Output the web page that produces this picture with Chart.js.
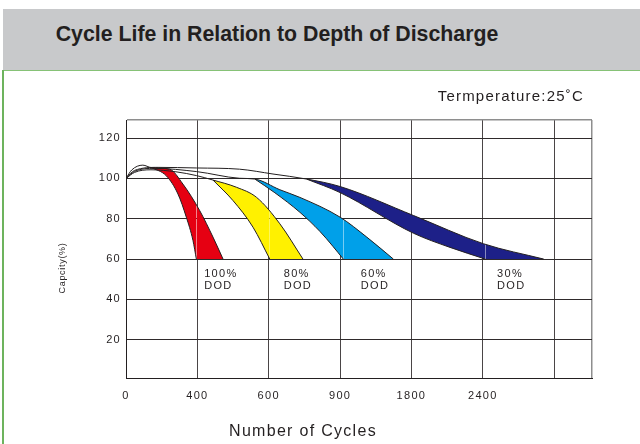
<!DOCTYPE html>
<html>
<head>
<meta charset="utf-8">
<script src="https://cdn.jsdelivr.net/npm/chart.js@4.4.0/dist/chart.umd.min.js"></script>
<style>
  html, body { margin: 0; padding: 0; background: #fff; }
  #page { position: relative; width: 640px; height: 444px; overflow: hidden; }
  #header { position: absolute; left: 3px; top: 9px; width: 637px; height: 61px; background: #c8c9cb; border-bottom: 1px solid #86c276; }
  #header h1 { position: absolute; left: 0; top: 13px; width: 548px; margin: 0; text-align: center;
    font: bold 21.3px Arial, "Liberation Sans", sans-serif; line-height: 24px; color: #231f20; }
  #frame { position: absolute; left: 2px; top: 70px; width: 2px; height: 374px; background: #6db35d; }
  #wrap { position: absolute; left: 0; top: 0; width: 640px; height: 444px; }
</style>
</head>
<body>
<div id="page">
  <div id="wrap"><canvas id="myChart"></canvas></div>
  <div id="header"><h1>Cycle Life in Relation to Depth of Discharge</h1></div>
  <div id="frame"></div>
</div>
<script>
// x positions are grid columns (0 = "0", 1 = "400", ... ), y is capacity %
const cycleLabels = ['0', '400', '600', '900', '1800', '2400'];
const capacityTicks = [20, 40, 60, 80, 100, 120];
const dodNames = ['100%', '80%', '60%', '30%'];

// outer (right) edge of each band, starting at the common point 0 / 100%
const dod100Outer = [[0, 100], [0.08, 104.2], [0.236, 106.6], [0.354, 105.4], [0.611, 104.6], [0.798, 97.2], [1.032, 84.1], [1.219, 70.9], [1.36, 60]];
const dod80Outer = [[0, 100], [0.12, 103], [0.35, 104.3], [0.7, 103.3], [0.99, 101.4], [1.219, 99.2], [1.55, 95.6], [1.83, 90.6], [2.156, 77.5], [2.48, 60]];
const dod60Outer = [[0, 100], [0.12, 103.5], [0.4, 105], [0.99, 103.4], [1.59, 100.1], [1.805, 99.7], [2.156, 94.4], [2.437, 90.6], [3.0, 80.8], [3.374, 70.9], [3.747, 60]];
const dod30Outer = [[0, 100], [0.12, 104], [0.45, 105.5], [0.99, 105.2], [1.59, 104.6], [2.06, 102.2], [2.53, 99.7], [3.0, 96], [4.03, 81.6], [5.01, 67.6], [5.854, 60]];

// inner (left) edge of each band, from where it leaves the outer curve down to 60%
const dod100Inner = [[0.354, 105.4], [0.565, 101.3], [0.728, 92.3], [0.845, 80.8], [0.938, 69.3], [0.986, 60]];
const dod80Inner = [[1.219, 99.2], [1.5, 89], [1.78, 75.8], [2.015, 60]];
const dod60Inner = [[1.805, 99.7], [2.086, 92.9], [2.437, 83.2], [2.718, 73.7], [2.9, 66.3], [3.045, 60]];
const dod30Inner = [[2.53, 99.7], [3.0, 93], [4.03, 72.8], [4.54, 65.8], [5.035, 60]];

const bandColors = ['#e60012', '#fff100', '#00a0e9', '#1d2088'];
const inkColor = '#231f20';
const fontFamily = 'Arial, "Liberation Sans", sans-serif';

const yMin = 1;
const yMax = 129;
const xMax = 6.53;

function toPoints(arr) {
    return arr.map(function(p) { return {x: p[0], y: p[1]}; });
}

var outers = [dod100Outer, dod80Outer, dod60Outer, dod30Outer];
var inners = [dod100Inner, dod80Inner, dod60Inner, dod30Inner];

var datasets = [];
for (var i = 0; i < outers.length; i++) {
    var outerIndex = datasets.length;
    var outer = outers[i];
    var inner = inners[i];
    datasets.push({
        label: dodNames[i] + ' DOD',
        data: toPoints(outer),
        borderColor: inkColor,
        borderWidth: 1,
        fill: false
    });
    datasets.push({
        label: dodNames[i] + ' inner',
        data: toPoints(inner),
        borderColor: inkColor,
        borderWidth: 1,
        backgroundColor: bandColors[i],
        fill: {target: outerIndex}
    });
    // bottom of the band, along the 60% line
    datasets.push({
        label: dodNames[i] + ' base',
        data: toPoints([inner[inner.length - 1], outer[outer.length - 1]]),
        borderWidth: 0,
        backgroundColor: bandColors[i],
        fill: {target: outerIndex}
    });
}

const textPlugin = {
    id: 'textPlugin',
    beforeDraw: function(chart) {
        chart.ctx.letterSpacing = '1.3px';
    },
    afterDraw: function(chart) {
        var ctx = chart.ctx;
        var xs = chart.scales.x;
        ctx.save();
        ctx.fillStyle = inkColor;

        ctx.letterSpacing = '1.2px';
        ctx.font = '15px ' + fontFamily;
        ctx.textAlign = 'right';
        ctx.textBaseline = 'middle';
        ctx.fillText('Termperature:25\u02DAC', 584, 97);

        // DOD labels under each band
        var anchors = [1.095, 2.21, 3.29, 5.2];
        ctx.font = '11px ' + fontFamily;
        ctx.textAlign = 'left';
        ctx.letterSpacing = '1.3px';
        for (var k = 0; k < dodNames.length; k++) {
            var px = xs.getPixelForValue(anchors[k]);
            ctx.fillText(dodNames[k], px, 274);
            ctx.fillText('DOD', px, 285.5);
        }

        ctx.font = '16px ' + fontFamily;
        ctx.textAlign = 'center';
        ctx.letterSpacing = '1.3px';
        ctx.fillText('Number of Cycles', 303, 432);

        ctx.translate(63, 268);
        ctx.rotate(-Math.PI / 2);
        ctx.font = '9px ' + fontFamily;
        ctx.letterSpacing = '0.7px';
        ctx.fillText('Capcity(%)', 0, 0);
        ctx.restore();
    }
};

const ctx = document.getElementById('myChart');

new Chart(ctx, {
    type: 'line',
    data: {datasets: datasets},
    plugins: [textPlugin],
    options: {
        responsive: true,
        maintainAspectRatio: false,
        animation: false,
        events: [],
        layout: {padding: {left: 0, top: 120, right: 48, bottom: 0}},
        elements: {
            point: {radius: 0},
            line: {cubicInterpolationMode: 'monotone'}
        },
        plugins: {
            legend: {display: false},
            tooltip: {enabled: false},
            filler: {drawTime: 'beforeDatasetsDraw'}
        },
        scales: {
            x: {
                type: 'linear',
                min: 0,
                max: xMax,
                afterFit: function(scale) { scale.height = 66; },
                afterBuildTicks: function(scale) {
                    var t = cycleLabels.map(function(_, i) { return {value: i}; });
                    t.push({value: cycleLabels.length});
                    t.push({value: xMax});
                    scale.ticks = t;
                },
                ticks: {
                    autoSkip: false,
                    maxRotation: 0,
                    padding: 11,
                    color: inkColor,
                    font: {family: fontFamily, size: 11},
                    callback: function(v, i) { return cycleLabels[i] !== undefined ? cycleLabels[i] : ''; }
                },
                grid: {
                    drawTicks: false,
                    color: function(c) { return c.tick && c.tick.value === xMax ? '#8e8e8e' : '#4a4546'; },
                    lineWidth: function(c) { return c.tick && c.tick.value === xMax ? 1.5 : 1; }
                },
                border: {display: true, color: inkColor, width: 1}
            },
            y: {
                min: yMin,
                max: yMax,
                afterFit: function(scale) { scale.width = 126; },
                afterBuildTicks: function(scale) {
                    var t = [{value: yMin}];
                    capacityTicks.forEach(function(v) { t.push({value: v}); });
                    t.push({value: yMax});
                    scale.ticks = t;
                },
                ticks: {
                    autoSkip: false,
                    padding: 5,
                    color: inkColor,
                    font: {family: fontFamily, size: 11},
                    callback: function(v) { return capacityTicks.indexOf(v) >= 0 ? v : ''; }
                },
                grid: {
                    drawTicks: false,
                    color: function(c) { return c.tick && c.tick.value === yMax ? '#8e8e8e' : '#2f2a2b'; },
                    lineWidth: function(c) { return c.tick && c.tick.value === yMax ? 1.5 : 1; }
                },
                border: {display: true, color: inkColor, width: 1}
            }
        }
    }
});
</script>
</body>
</html>
